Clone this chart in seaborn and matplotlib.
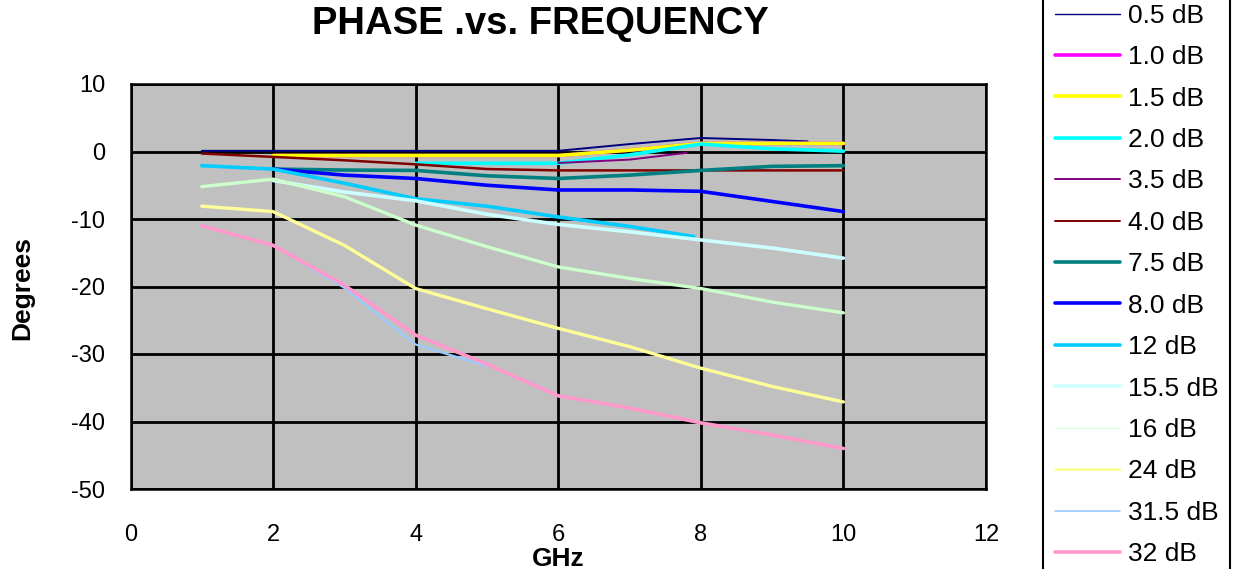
import numpy as np
import pandas as pd
import matplotlib
matplotlib.use("Agg")
import matplotlib.pyplot as plt
import seaborn as sns

# ## ---- ## #
# ## Data ## #
# ## ---- ## #

labels = ["0.5 dB", "1.0 dB", "1.5 dB", "2.0 dB", "3.5 dB", "4.0 dB", "7.5 dB",
          "8.0 dB", "12 dB", "15.5 dB", "16 dB", "24 dB", "31.5 dB", "32 dB"]

x_05 = [1, 2, 3, 4, 5, 6, 7, 8, 9, 9.5]
y_05 = [0.1, 0.1, 0.1, 0.1, 0.1, 0.1, 1.1, 2.0, 1.7, 1.5]
x_10 = [2, 3, 4, 5, 6, 7, 8, 9, 10]
y_10 = [-0.6, -0.6, -0.6, -0.6, -0.6, 0.2, 1.2, 1.2, 1.2]
x_15 = [2, 3, 4, 5, 6, 7, 8, 9, 10]
y_15 = [-0.6, -0.6, -0.6, -0.6, -0.6, 0.2, 1.2, 1.2, 1.2]
x_20 = [4, 5, 6, 7, 8, 9, 10]
y_20 = [-1.75, -1.75, -1.75, -0.5, 1.1, 0.4, 0.05]
x_35 = [6, 7, 7.8]
y_35 = [-1.7, -1.2, -0.2]
x_40 = [1, 2, 3, 4, 5, 6, 7, 8, 9, 10]
y_40 = [-0.3, -0.8, -1.3, -1.9, -2.6, -2.8, -2.8, -2.8, -2.8, -2.8]
x_75 = [2, 3, 4, 5, 6, 7, 8, 9, 10]
y_75 = [-2.6, -2.75, -2.8, -3.6, -4.0, -3.5, -2.8, -2.2, -2.1]
x_80 = [2, 3, 4, 5, 6, 7, 8, 9, 10]
y_80 = [-2.6, -3.5, -4.0, -5.0, -5.7, -5.7, -5.9, -7.4, -8.9]
x_12 = [1, 2, 3, 4, 5, 6, 7, 7.9]
y_12 = [-2.1, -2.6, -4.7, -7.0, -8.1, -9.7, -11.1, -12.6]
x_155 = [2, 3, 4, 5, 6, 7, 8, 9, 10]
y_155 = [-4.3, -6.0, -7.3, -9.3, -10.8, -11.9, -13.1, -14.3, -15.8]
x_16 = [1, 2, 3, 4, 5, 6, 7, 8, 9, 10]
y_16 = [-5.2, -4.1, -6.7, -10.9, -14.1, -17.1, -18.8, -20.3, -22.3, -23.9]
x_24 = [1, 2, 3, 4, 5, 6, 7, 8, 9, 10]
y_24 = [-8.1, -8.9, -13.9, -20.3, -23.3, -26.2, -28.9, -32.1, -34.8, -37.1]
x_315 = [1, 2, 3, 4, 5]
y_315 = [-11.0, -13.9, -20.2, -28.6, -31.8]
x_32 = [1, 2, 3, 4, 5, 6, 7, 8, 9, 10]
y_32 = [-11.0, -13.9, -19.8, -27.2, -31.5, -36.2, -38.0, -40.2, -42.0, -44.0]

xs = [x_05, x_10, x_15, x_20, x_35, x_40, x_75, x_80, x_12, x_155, x_16, x_24, x_315, x_32]
ys = [y_05, y_10, y_15, y_20, y_35, y_40, y_75, y_80, y_12, y_155, y_16, y_24, y_315, y_32]

# Excel-style palette and line weights
colors = ["#000080", "#FF00FF", "#FFFF00", "#00FFFF", "#800080", "#800000", "#008080",
          "#0000FF", "#00CCFF", "#CCFFFF", "#CCFFCC", "#FFFF99", "#99CCFF", "#FF99CC"]
widths = [1.4, 2.6, 2.6, 2.6, 1.4, 1.8, 2.6, 2.6, 2.6, 2.6, 2.4, 2.4, 1.6, 2.6]
legend_widths = [1.0, 2.6, 2.6, 2.6, 1.4, 1.4, 2.6, 2.6, 2.6, 2.6, 0.8, 2.0, 1.2, 2.6]

# ## ---- ## #
# ## Plot ## #
# ## ---- ## #

sns.set_style("white")
plt.rcParams["font.family"] = ["Liberation Sans", "DejaVu Sans"]
plt.rcParams["axes.unicode_minus"] = False
plt.rcParams["text.color"] = "black"
plt.rcParams["xtick.color"] = "black"
plt.rcParams["ytick.color"] = "black"

fig = plt.figure(figsize=(12.46, 5.69), dpi=100)
ax = fig.add_axes([130.5 / 1246, 1 - 489 / 569, (986 - 130.5) / 1246, (489 - 84) / 569])
ax.set_facecolor("#C0C0C0")

for x, y, c, w, lab in zip(xs, ys, colors, widths, labels):
    df = pd.DataFrame({"GHz": x, "deg": y})
    sns.lineplot(data=df, x="GHz", y="deg", ax=ax, color=c, lw=w, legend=False)

ax.set_xlim(0, 12)
ax.set_ylim(-50, 10)
ax.set_xticks(np.arange(0, 13, 2))
ax.set_yticks(np.arange(-50, 11, 10))
ax.grid(True, color="black", lw=2.0)
ax.set_axisbelow(True)
for s in ax.spines.values():
    s.set_color("black")
    s.set_linewidth(1.8)
ax.tick_params(axis="y", direction="out", length=6, width=1.5, color="black", pad=12,
               labelsize=17, labelcolor="black")
ax.tick_params(axis="x", direction="out", length=6, width=1.5, color="black", pad=19,
               labelsize=17, labelcolor="black")
ax.set_xlabel("")
ax.set_ylabel("")

fig.text(0.434, 0.958, "PHASE .vs. FREQUENCY", ha="center", va="center",
         fontsize=27.5, fontweight="bold", color="black")
fig.text(22 / 1246, 1 - 288 / 569, "Degrees", rotation=90, ha="center", va="center",
         fontsize=19, fontweight="bold", color="black")
fig.text(558 / 1246, 1 - 559 / 569, "GHz", ha="center", va="center",
         fontsize=19, fontweight="bold", color="black")

# Legend on the right, built from proxy lines
handles = [plt.Line2D([], [], color=c, lw=w) for c, w in zip(colors, legend_widths)]
leg = fig.legend(handles, labels, loc="center left", bbox_to_anchor=(1043 / 1246, 1 - 285 / 569),
                 frameon=True, fancybox=False, fontsize=19, handlelength=2.46,
                 handletextpad=0.3, labelspacing=0.66, borderpad=0.45, borderaxespad=0)
leg.get_frame().set_edgecolor("black")
leg.get_frame().set_linewidth(1.5)
leg.get_frame().set_facecolor("white")
leg.get_frame().set_alpha(1)
for t in leg.get_texts():
    t.set_color("black")

fig.savefig("out.png", dpi=100)
